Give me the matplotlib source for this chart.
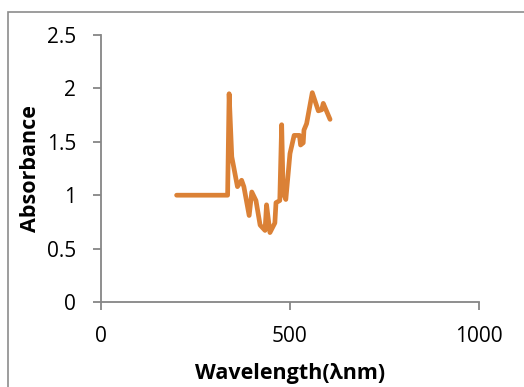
import matplotlib
matplotlib.use("Agg")
import matplotlib.pyplot as plt
from matplotlib.patches import Rectangle

# absorbance spectrum
wavelength = [200, 335, 339, 346, 361, 372, 378, 392, 399, 410, 421, 434, 438,
              447, 460, 463, 473, 478, 482, 489, 500, 511, 525, 528, 535, 537,
              544, 559, 575, 584, 588, 606]
absorbance = [1.0, 1.0, 1.95, 1.36, 1.08, 1.14, 1.08, 0.81, 1.03, 0.95, 0.72,
              0.67, 0.91, 0.65, 0.74, 0.93, 0.95, 1.66, 1.02, 0.96, 1.39, 1.56,
              1.56, 1.47, 1.49, 1.61, 1.67, 1.96, 1.79, 1.80, 1.86, 1.71]

x_ticks = [0, 500, 1000]
y_ticks = [0, 0.5, 1, 1.5, 2, 2.5]
y_tick_labels = ["0", "0.5", "1", "1.5", "2", "2.5"]

plt.rcParams["font.family"] = ["Open Sans", "DejaVu Sans"]

fig = plt.figure(figsize=(5.24, 3.87), dpi=100)
ax = fig.add_axes([0.1927, 0.2196, 0.7214, 0.69])

# chart-area frame, its right and bottom edges fall off the picture
top = 1 - 12 / 387
fig.patches.append(Rectangle((8 / 524, -0.2), 1.2, top + 0.2,
                             transform=fig.transFigure, fill=False,
                             edgecolor="#8c8c8c", linewidth=1.2))

ax.plot(wavelength, absorbance, color="#DB8136", linewidth=3.4,
        solid_joinstyle="round", solid_capstyle="round")

ax.set_xlim(0, 1000)
ax.set_ylim(0, 2.5)
ax.set_xticks(x_ticks)
ax.set_yticks(y_ticks)
ax.set_yticklabels(y_tick_labels)

for side in ("top", "right"):
    ax.spines[side].set_visible(False)
for side in ("left", "bottom"):
    ax.spines[side].set_color("#868686")
    ax.spines[side].set_linewidth(1.3)
ax.tick_params(direction="out", length=6, width=1.3, color="#868686",
               labelsize=15, labelcolor="black")
ax.tick_params(axis="y", pad=12)
ax.tick_params(axis="x", pad=11)

ax.set_xlabel("Wavelength(λnm)", fontsize=15.5, fontweight="bold", labelpad=12)
ax.set_ylabel("Absorbance", fontsize=15.5, fontweight="bold", labelpad=4)

fig.savefig("out.png", dpi=100)
